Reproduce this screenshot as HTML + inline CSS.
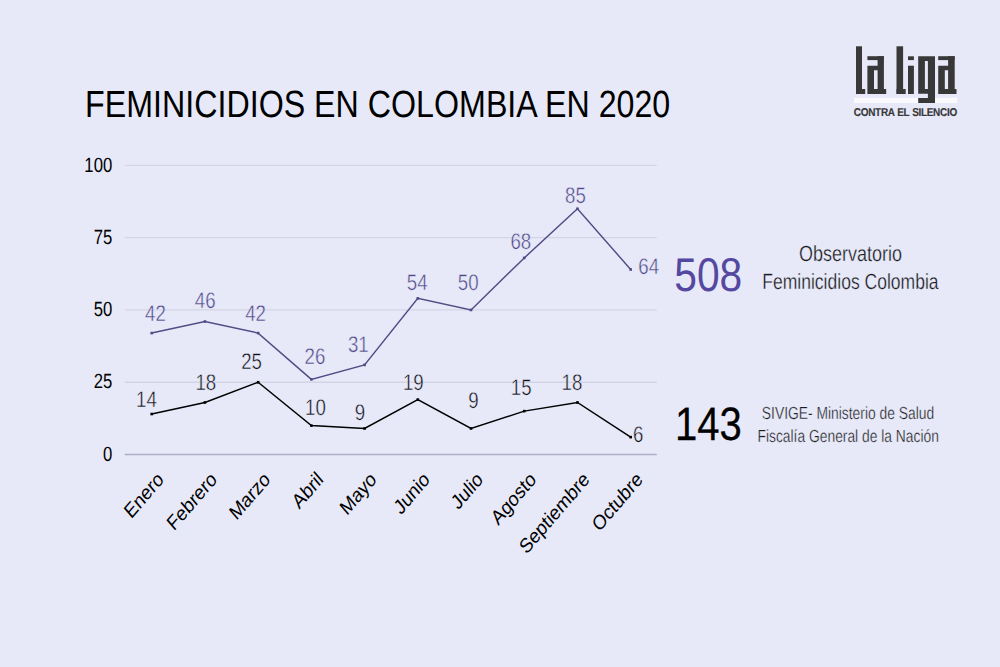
<!DOCTYPE html>
<html><head><meta charset="utf-8"><style>
html,body{margin:0;padding:0;background:#e7e9f8;width:1000px;height:667px;overflow:hidden}
svg{position:absolute;left:0;top:0}
text{font-family:"Liberation Sans",sans-serif;text-rendering:geometricPrecision}
</style></head><body>
<svg width="1000" height="667" viewBox="0 0 1000 667">
<rect width="1000" height="667" fill="#e7e9f8"/>

<text x="0" y="0" font-size="37.8" fill="#000" transform="translate(85.1 117) scale(0.852 1)">FEMINICIDIOS EN COLOMBIA EN 2020</text>
<line x1="124.8" x2="656.8" y1="382.23" y2="382.23" stroke="#d3d5e6" stroke-width="1.3"/>
<line x1="124.8" x2="656.8" y1="309.95" y2="309.95" stroke="#d3d5e6" stroke-width="1.3"/>
<line x1="124.8" x2="656.8" y1="237.68" y2="237.68" stroke="#d3d5e6" stroke-width="1.3"/>
<line x1="124.8" x2="656.8" y1="165.40" y2="165.40" stroke="#d3d5e6" stroke-width="1.3"/>
<line x1="124.8" x2="656.8" y1="454.5" y2="454.5" stroke="#adaec2" stroke-width="1.4"/>
<text x="0" y="0" font-size="20.6" text-anchor="end" transform="translate(112.2 460.70) scale(0.81 1)" fill="#000">0</text>
<text x="0" y="0" font-size="20.6" text-anchor="end" transform="translate(112.2 388.43) scale(0.81 1)" fill="#000">25</text>
<text x="0" y="0" font-size="20.6" text-anchor="end" transform="translate(112.2 316.15) scale(0.81 1)" fill="#000">50</text>
<text x="0" y="0" font-size="20.6" text-anchor="end" transform="translate(112.2 243.88) scale(0.81 1)" fill="#000">75</text>
<text x="0" y="0" font-size="20.6" text-anchor="end" transform="translate(112.2 171.60) scale(0.81 1)" fill="#000">100</text>
<polyline points="151.70,333.08 204.92,321.51 258.14,333.08 311.36,379.33 364.58,364.88 417.80,298.39 471.02,309.95 524.24,257.91 577.46,208.76 630.68,269.48" fill="none" stroke="#514b86" stroke-width="1.45" stroke-linejoin="miter"/>
<polyline points="151.70,414.03 204.92,402.46 258.14,382.23 311.36,425.59 364.58,428.48 417.80,399.57 471.02,428.48 524.24,411.13 577.46,402.46 630.68,437.15" fill="none" stroke="#000" stroke-width="1.5" stroke-linejoin="miter"/>
<rect x="150.40" y="331.78" width="2.6" height="2.6" fill="#514b86"/>
<rect x="203.62" y="320.21" width="2.6" height="2.6" fill="#514b86"/>
<rect x="256.84" y="331.78" width="2.6" height="2.6" fill="#514b86"/>
<rect x="310.06" y="378.03" width="2.6" height="2.6" fill="#514b86"/>
<rect x="363.28" y="363.58" width="2.6" height="2.6" fill="#514b86"/>
<rect x="416.50" y="297.09" width="2.6" height="2.6" fill="#514b86"/>
<rect x="469.72" y="308.65" width="2.6" height="2.6" fill="#514b86"/>
<rect x="522.94" y="256.61" width="2.6" height="2.6" fill="#514b86"/>
<rect x="576.16" y="207.46" width="2.6" height="2.6" fill="#514b86"/>
<rect x="629.38" y="268.18" width="2.6" height="2.6" fill="#514b86"/>
<rect x="150.40" y="412.73" width="2.6" height="2.6" fill="#000"/>
<rect x="203.62" y="401.16" width="2.6" height="2.6" fill="#000"/>
<rect x="256.84" y="380.93" width="2.6" height="2.6" fill="#000"/>
<rect x="310.06" y="424.29" width="2.6" height="2.6" fill="#000"/>
<rect x="363.28" y="427.18" width="2.6" height="2.6" fill="#000"/>
<rect x="416.50" y="398.27" width="2.6" height="2.6" fill="#000"/>
<rect x="469.72" y="427.18" width="2.6" height="2.6" fill="#000"/>
<rect x="522.94" y="409.83" width="2.6" height="2.6" fill="#000"/>
<rect x="576.16" y="401.16" width="2.6" height="2.6" fill="#000"/>
<rect x="629.38" y="435.85" width="2.6" height="2.6" fill="#000"/>
<text x="0" y="0" font-size="22.6" text-anchor="middle" transform="translate(155.5 321) scale(0.826 1)" fill="#4f4788" stroke="#e7e9f8" stroke-width="0.45">42</text>
<text x="0" y="0" font-size="22.6" text-anchor="middle" transform="translate(205.2 308.2) scale(0.826 1)" fill="#4f4788" stroke="#e7e9f8" stroke-width="0.45">46</text>
<text x="0" y="0" font-size="22.6" text-anchor="middle" transform="translate(255.6 321) scale(0.826 1)" fill="#4f4788" stroke="#e7e9f8" stroke-width="0.45">42</text>
<text x="0" y="0" font-size="22.6" text-anchor="middle" transform="translate(314.9 363.5) scale(0.826 1)" fill="#4f4788" stroke="#e7e9f8" stroke-width="0.45">26</text>
<text x="0" y="0" font-size="22.6" text-anchor="middle" transform="translate(358.3 351.5) scale(0.826 1)" fill="#4f4788" stroke="#e7e9f8" stroke-width="0.45">31</text>
<text x="0" y="0" font-size="22.6" text-anchor="middle" transform="translate(417.2 289.7) scale(0.826 1)" fill="#4f4788" stroke="#e7e9f8" stroke-width="0.45">54</text>
<text x="0" y="0" font-size="22.6" text-anchor="middle" transform="translate(468.2 289.7) scale(0.826 1)" fill="#4f4788" stroke="#e7e9f8" stroke-width="0.45">50</text>
<text x="0" y="0" font-size="22.6" text-anchor="middle" transform="translate(520.8 248.8) scale(0.826 1)" fill="#4f4788" stroke="#e7e9f8" stroke-width="0.45">68</text>
<text x="0" y="0" font-size="22.6" text-anchor="middle" transform="translate(575.5 203.2) scale(0.826 1)" fill="#4f4788" stroke="#e7e9f8" stroke-width="0.45">85</text>
<text x="0" y="0" font-size="22.6" text-anchor="middle" transform="translate(648.7 273.9) scale(0.826 1)" fill="#4f4788" stroke="#e7e9f8" stroke-width="0.45">64</text>
<text x="0" y="0" font-size="22.6" text-anchor="middle" transform="translate(146.4 407.4) scale(0.826 1)" fill="#101018" stroke="#e7e9f8" stroke-width="0.45">14</text>
<text x="0" y="0" font-size="22.6" text-anchor="middle" transform="translate(205.8 389.7) scale(0.826 1)" fill="#101018" stroke="#e7e9f8" stroke-width="0.45">18</text>
<text x="0" y="0" font-size="22.6" text-anchor="middle" transform="translate(251.6 369.4) scale(0.826 1)" fill="#101018" stroke="#e7e9f8" stroke-width="0.45">25</text>
<text x="0" y="0" font-size="22.6" text-anchor="middle" transform="translate(315.4 415.4) scale(0.826 1)" fill="#101018" stroke="#e7e9f8" stroke-width="0.45">10</text>
<text x="0" y="0" font-size="22.6" text-anchor="middle" transform="translate(359.9 419.9) scale(0.826 1)" fill="#101018" stroke="#e7e9f8" stroke-width="0.45">9</text>
<text x="0" y="0" font-size="22.6" text-anchor="middle" transform="translate(413.3 389.7) scale(0.826 1)" fill="#101018" stroke="#e7e9f8" stroke-width="0.45">19</text>
<text x="0" y="0" font-size="22.6" text-anchor="middle" transform="translate(473.5 408.2) scale(0.826 1)" fill="#101018" stroke="#e7e9f8" stroke-width="0.45">9</text>
<text x="0" y="0" font-size="22.6" text-anchor="middle" transform="translate(521.2 394.6) scale(0.826 1)" fill="#101018" stroke="#e7e9f8" stroke-width="0.45">15</text>
<text x="0" y="0" font-size="22.6" text-anchor="middle" transform="translate(572 389.6) scale(0.826 1)" fill="#101018" stroke="#e7e9f8" stroke-width="0.45">18</text>
<text x="0" y="0" font-size="22.6" text-anchor="middle" transform="translate(638.1 441.8) scale(0.826 1)" fill="#101018" stroke="#e7e9f8" stroke-width="0.45">6</text>
<text x="0" y="0" font-size="20.6" text-anchor="end" transform="translate(164.70 480.6) scale(0.859 1) rotate(-45)" fill="#000">Enero</text>
<text x="0" y="0" font-size="20.6" text-anchor="end" transform="translate(217.92 480.6) scale(0.859 1) rotate(-45)" fill="#000">Febrero</text>
<text x="0" y="0" font-size="20.6" text-anchor="end" transform="translate(271.14 480.6) scale(0.859 1) rotate(-45)" fill="#000">Marzo</text>
<text x="0" y="0" font-size="20.6" text-anchor="end" transform="translate(324.36 480.6) scale(0.859 1) rotate(-45)" fill="#000">Abril</text>
<text x="0" y="0" font-size="20.6" text-anchor="end" transform="translate(377.58 480.6) scale(0.859 1) rotate(-45)" fill="#000">Mayo</text>
<text x="0" y="0" font-size="20.6" text-anchor="end" transform="translate(430.80 480.6) scale(0.859 1) rotate(-45)" fill="#000">Junio</text>
<text x="0" y="0" font-size="20.6" text-anchor="end" transform="translate(484.02 480.6) scale(0.859 1) rotate(-45)" fill="#000">Julio</text>
<text x="0" y="0" font-size="20.6" text-anchor="end" transform="translate(537.24 480.6) scale(0.859 1) rotate(-45)" fill="#000">Agosto</text>
<text x="0" y="0" font-size="20.6" text-anchor="end" transform="translate(590.46 480.6) scale(0.859 1) rotate(-45)" fill="#000">Septiembre</text>
<text x="0" y="0" font-size="20.6" text-anchor="end" transform="translate(643.68 480.6) scale(0.859 1) rotate(-45)" fill="#000">Octubre</text>
<text x="0" y="0" font-size="47.3" transform="translate(674.3 291) scale(0.861 1)" fill="#5548a0">508</text>
<text x="0" y="0" font-size="46.8" transform="translate(675 439.7) scale(0.856 1)" fill="#000" stroke="#000" stroke-width="0.25">143</text>
<text x="0" y="0" font-size="22" text-anchor="middle" transform="translate(850.5 261) scale(0.818 1)" fill="#1a1a22" stroke="#e7e9f8" stroke-width="0.3">Observatorio</text>
<text x="0" y="0" font-size="22" text-anchor="middle" transform="translate(850.4 289.4) scale(0.797 1)" fill="#1a1a22" stroke="#e7e9f8" stroke-width="0.3">Feminicidios Colombia</text>
<text x="0" y="0" font-size="17.5" text-anchor="middle" transform="translate(848 419) scale(0.791 1)" fill="#1a1a22" stroke="#e7e9f8" stroke-width="0.3">SIVIGE- Ministerio de Salud</text>
<text x="0" y="0" font-size="17.5" text-anchor="middle" transform="translate(848.2 442) scale(0.79 1)" fill="#1a1a22" stroke="#e7e9f8" stroke-width="0.3">Fiscalía General de la Nación</text>
<rect x="854" y="97.8" width="103.2" height="5.2" fill="#fafafe"/>
<g fill="#383838">
<rect x="856" y="46.3" width="6" height="47.7"/><rect x="856" y="89" width="9.2" height="5"/>
<rect x="867.4" y="56.2" width="16.5" height="3.9"/>
<path d="M867.4 65.8H877.6V56.2H883.9V89H886.2V94H867.4ZM874 70.3V89H877.6V70.3Z" fill-rule="evenodd"/>
<rect x="896.5" y="46.3" width="6.6" height="47.7"/><rect x="896.5" y="89" width="9.2" height="5"/>
<rect x="908" y="56.3" width="5.9" height="3.8"/><rect x="908" y="65.7" width="5.9" height="28.3"/>
<path d="M918.2 56.3H935V102.9H918.2V98.1H927.9V93.7H918.2ZM924.9 60.9V89.1H927.9V60.9Z" fill-rule="evenodd"/>
<rect x="938.2" y="56.2" width="16.5" height="3.9"/>
<path d="M938.2 65.8H948.1V56.2H954.7V89H956.5V94H938.2ZM944.8 70.3V89H948.1V70.3Z" fill-rule="evenodd"/>
</g>
<text x="0" y="0" font-size="11.3" font-weight="bold" transform="translate(853.8 115.6) scale(0.885 1)" letter-spacing="-0.35" word-spacing="0.5" fill="#383838" stroke="#383838" stroke-width="0.15">CONTRA EL SILENCIO</text>
</svg></body></html>
